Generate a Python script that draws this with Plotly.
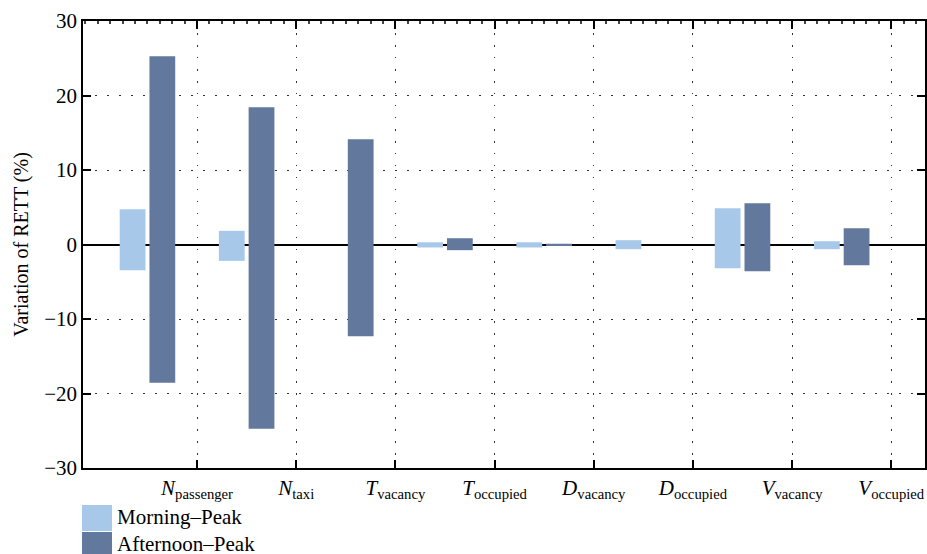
import plotly.graph_objects as go

categories = ["<i>N</i><sub>passenger</sub>", "<i>N</i><sub>taxi</sub>", "<i>T</i><sub>vacancy</sub>",
              "<i>T</i><sub>occupied</sub>", "<i>D</i><sub>vacancy</sub>", "<i>D</i><sub>occupied</sub>",
              "<i>V</i><sub>vacancy</sub>", "<i>V</i><sub>occupied</sub>"]
morning_high = [4.73, 1.83, None, 0.3, 0.3, 0.58, 4.87, 0.44]
morning_low = [-3.45, -2.2, None, -0.4, -0.4, -0.63, -3.18, -0.63]
afternoon_high = [25.26, 18.42, 14.12, 0.84, 0.1, None, 5.54, 2.19]
afternoon_low = [-18.56, -24.73, -12.3, -0.76, -0.1, None, -3.58, -2.78]
y_ticks = [-30, -20, -10, 0, 10, 20, 30]

MORNING = "#a8c8ea"
AFTERNOON = "#63789d"
FONT = "Liberation Serif"

pos = list(range(1, len(categories) + 1))
tickpos = [p + 0.5 for p in pos]


def span(hi, lo):
    return [None if h is None else h - l for h, l in zip(hi, lo)]


fig = go.Figure()
fig.add_trace(go.Bar(x=pos, y=span(morning_high, morning_low), base=morning_low,
                     width=0.26, offset=-0.28, marker=dict(color=MORNING, line_width=0),
                     name="Morning–Peak", showlegend=False))
fig.add_trace(go.Bar(x=pos, y=span(afternoon_high, afternoon_low), base=afternoon_low,
                     width=0.26, offset=0.02, marker=dict(color=AFTERNOON, line_width=0),
                     name="Afternoon–Peak", showlegend=False))

xr = [0.35, 8.84]
fig.update_layout(
    width=927, height=554,
    margin=dict(l=83, r=2, t=21, b=86, autoexpand=False),
    paper_bgcolor="white", plot_bgcolor="white",
    barmode="overlay",
    font=dict(family=FONT, size=20, color="black"),
    xaxis=dict(range=xr, tickvals=tickpos, ticktext=categories,
               ticks="inside", ticklen=8, tickwidth=1.5, tickcolor="black",
               showline=True, linecolor="black", linewidth=1.5, mirror=True,
               showgrid=True, gridcolor="#333", gridwidth=1, griddash="1.5px,10.5px",
               zeroline=False, tickfont=dict(size=21), automargin=False),
    xaxis2=dict(range=xr, overlaying="x", side="top", anchor="y",
                tickvals=tickpos, showticklabels=False,
                ticks="inside", ticklen=8, tickwidth=1.5, tickcolor="black",
                minor=dict(ticks="inside", ticklen=3, tickcolor="#444", tick0=0.5, dtick=0.125),
                showline=False, showgrid=False, zeroline=False, automargin=False),
    yaxis=dict(range=[-30, 30], tickvals=y_ticks,
               ticktext=[("−" + str(-v)) if v < 0 else str(v) for v in y_ticks],
               ticks="inside", ticklen=8, tickwidth=1.5, tickcolor="black",
               showline=True, linecolor="black", linewidth=1.5, mirror="ticks",
               showgrid=True, gridcolor="#333", gridwidth=1, griddash="1.5px,10.5px",
               zeroline=True, zerolinecolor="black", zerolinewidth=1.5,
               title=dict(text="Variation of RETT (%)", font=dict(size=20), standoff=10),
               tickfont=dict(size=21), automargin=False),
)
# dummy trace on xaxis2 so the top axis is drawn
fig.add_trace(go.Scatter(x=[None], y=[None], xaxis="x2", showlegend=False, hoverinfo="skip"))

# custom legend below the plot
pw = 927 - 83 - 2
ph = 554 - 21 - 86
legend_items = [("Morning–Peak", MORNING), ("Afternoon–Peak", AFTERNOON)]
for i, (label, col) in enumerate(legend_items):
    top = 505 + i * 27
    y0 = (468 - (top + 26)) / ph
    y1 = (468 - top) / ph
    fig.add_shape(type="rect", xref="paper", yref="paper", x0=-1 / pw, x1=29 / pw,
                  y0=y0, y1=y1, fillcolor=col, line_width=0)
    fig.add_annotation(xref="paper", yref="paper", x=32 / pw, y=(y0 + y1) / 2 + 1 / ph,
                       text=label, showarrow=False, xanchor="left", yanchor="middle",
                       font=dict(size=21, family=FONT))

fig.write_html("out.html", config={"displayModeBar": False},
               post_script="document.body.style.margin='0';document.body.style.overflow='hidden';")
